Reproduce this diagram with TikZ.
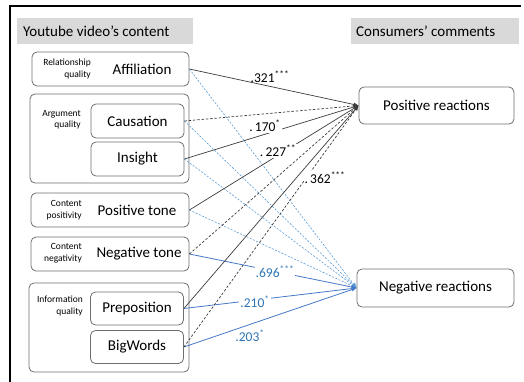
\documentclass[tikz,border=0pt]{standalone}
\usepackage{fontspec}
\setmainfont{Carlito}
\usetikzlibrary{arrows.meta}
\definecolor{linegray}{RGB}{60,60,60}
\definecolor{solblue}{RGB}{68,120,200}
\definecolor{dashblue}{RGB}{91,155,213}
\definecolor{txtblue}{RGB}{46,117,182}
\definecolor{hdrgray}{RGB}{217,217,217}
\definecolor{boxgray}{RGB}{110,110,110}
\begin{document}
\begin{tikzpicture}[x=1pt,y=-1pt,
  box/.style={draw=boxgray, rounded corners=5pt, line width=0.8pt, inner sep=0pt},
  hdr/.style={fill=hdrgray, inner sep=0pt, anchor=west, font=\fontsize{15}{17}\selectfont},
  main/.style={font=\fontsize{15}{17}\selectfont, inner sep=0pt},
  small/.style={font=\fontsize{9.5}{11.5}\selectfont, align=right, inner sep=0pt, anchor=east},
  blk/.style={draw=linegray, line width=0.7pt, -{Latex[length=5pt,width=4pt]}},
  blkd/.style={blk, dash pattern=on 2.5pt off 1.8pt},
  blu/.style={draw=solblue, line width=0.8pt, -{Latex[length=5pt,width=4pt]}},
  blud/.style={draw=dashblue, line width=0.6pt, dash pattern=on 2pt off 1.5pt, -{Latex[length=5pt,width=4pt]}},
  lab/.style={font=\fontsize{13.5}{15}\selectfont, inner sep=1pt},
  blab/.style={lab, text=txtblue}
]
\useasboundingbox (0,0) rectangle (524,382);
% frame
\draw[line width=1.8pt] (10,383) -- (10,6) -- (521,6);
% headers
\node[hdr, minimum width=176pt, minimum height=26pt] (h1) at (17,31) {};
\node[main, anchor=west] (h1t) at (23,31) {Youtube video’s content};
\node[hdr, minimum width=168pt, minimum height=26pt] (h2) at (351,31) {};
\node[main, anchor=west] (h2t) at (356,31) {Consumers’ comments};
% left boxes
\node[box, minimum width=157pt, minimum height=34pt] (aff) at (110.5,69) {};
\node[box, minimum width=159pt, minimum height=89pt] (argg) at (109.5,138.5) {};
\node[box, minimum width=93pt, minimum height=34pt] (cau) at (137.5,121) {};
\node[box, minimum width=93pt, minimum height=34pt] (ins) at (137.5,159) {};
\node[box, minimum width=158pt, minimum height=34pt] (pos) at (110,210) {};
\node[box, minimum width=158pt, minimum height=34pt] (neg) at (110,254) {};
\node[box, minimum width=160pt, minimum height=89pt] (infg) at (109,327.5) {};
\node[box, minimum width=93pt, minimum height=33pt] (pre) at (137,308.5) {};
\node[box, minimum width=93pt, minimum height=33pt] (big) at (137,347) {};
% right boxes
\node[box, minimum width=155pt, minimum height=37pt] (pr) at (436.5,105.5) {};
\node[box, minimum width=157pt, minimum height=38pt] (nr) at (435.5,288) {};
% texts
\node[main] (afft) at (142,69) {Affiliation};
\node[main] (caut) at (137.5,121) {Causation};
\node[main] (inst) at (137.5,159) {Insight};
\node[main] (post) at (137,210) {Positive tone};
\node[main] (negt) at (139,254) {Negative tone};
\node[main] (pret) at (137,308.5) {Preposition};
\node[main] (bigt) at (137,347) {BigWords};
\node[main] (prt) at (436.5,105.5) {Positive reactions};
\node[main] (nrt) at (435.5,288) {Negative reactions};
\node[small] (s1) at (91,69) {Relationship\\quality};
\node[small] (s2) at (81,119.5) {Argument\\quality};
\node[small] (s3) at (82,210) {Content\\positivity};
\node[small] (s4) at (82,253) {Content\\negativity};
\node[small] (s5) at (83,306) {Information\\quality};
% blue lines to negative reactions
\draw[blud] (aff.east) -- (nr.west);
\draw[blud] (cau.east) -- (nr.west);
\draw[blud] (ins.east) -- (nr.west);
\draw[blud] (pos.east) -- (nr.west);
\draw[blu] (neg.east) -- (nr.west);
\draw[blu] (pre.east) -- (nr.west);
\draw[blu] (big.east) -- (nr.west);
% black lines to positive reactions
\draw[blk] (aff.east) -- (pr.west);
\draw[blkd] (cau.east) -- (pr.west);
\draw[blk] (ins.east) -- (pr.west);
\draw[blk] (pos.east) -- (pr.west);
\draw[blkd] (neg.east) -- (pr.west);
\draw[blk] (pre.east) -- (pr.west);
\draw[blkd] (big.east) -- (pr.west);
% labels
\node[lab] (l1) at (270,77) {.321\textsuperscript{***}};
\node[lab, fill=white] (l2) at (265,126) {.\,170\textsuperscript{*}};
\node[lab, fill=white] (l3) at (278,151) {.\,227\textsuperscript{**}};
\node[lab, fill=white] (l4) at (325,178) {.\,362\textsuperscript{***}};
\node[blab, fill=white] (l5) at (275,272) {.696\textsuperscript{***}};
\node[blab, fill=white] (l6) at (255,302) {.210\textsuperscript{*}};
\node[blab] (l7) at (250,336) {.203\textsuperscript{*}};
\end{tikzpicture}
\end{document}
